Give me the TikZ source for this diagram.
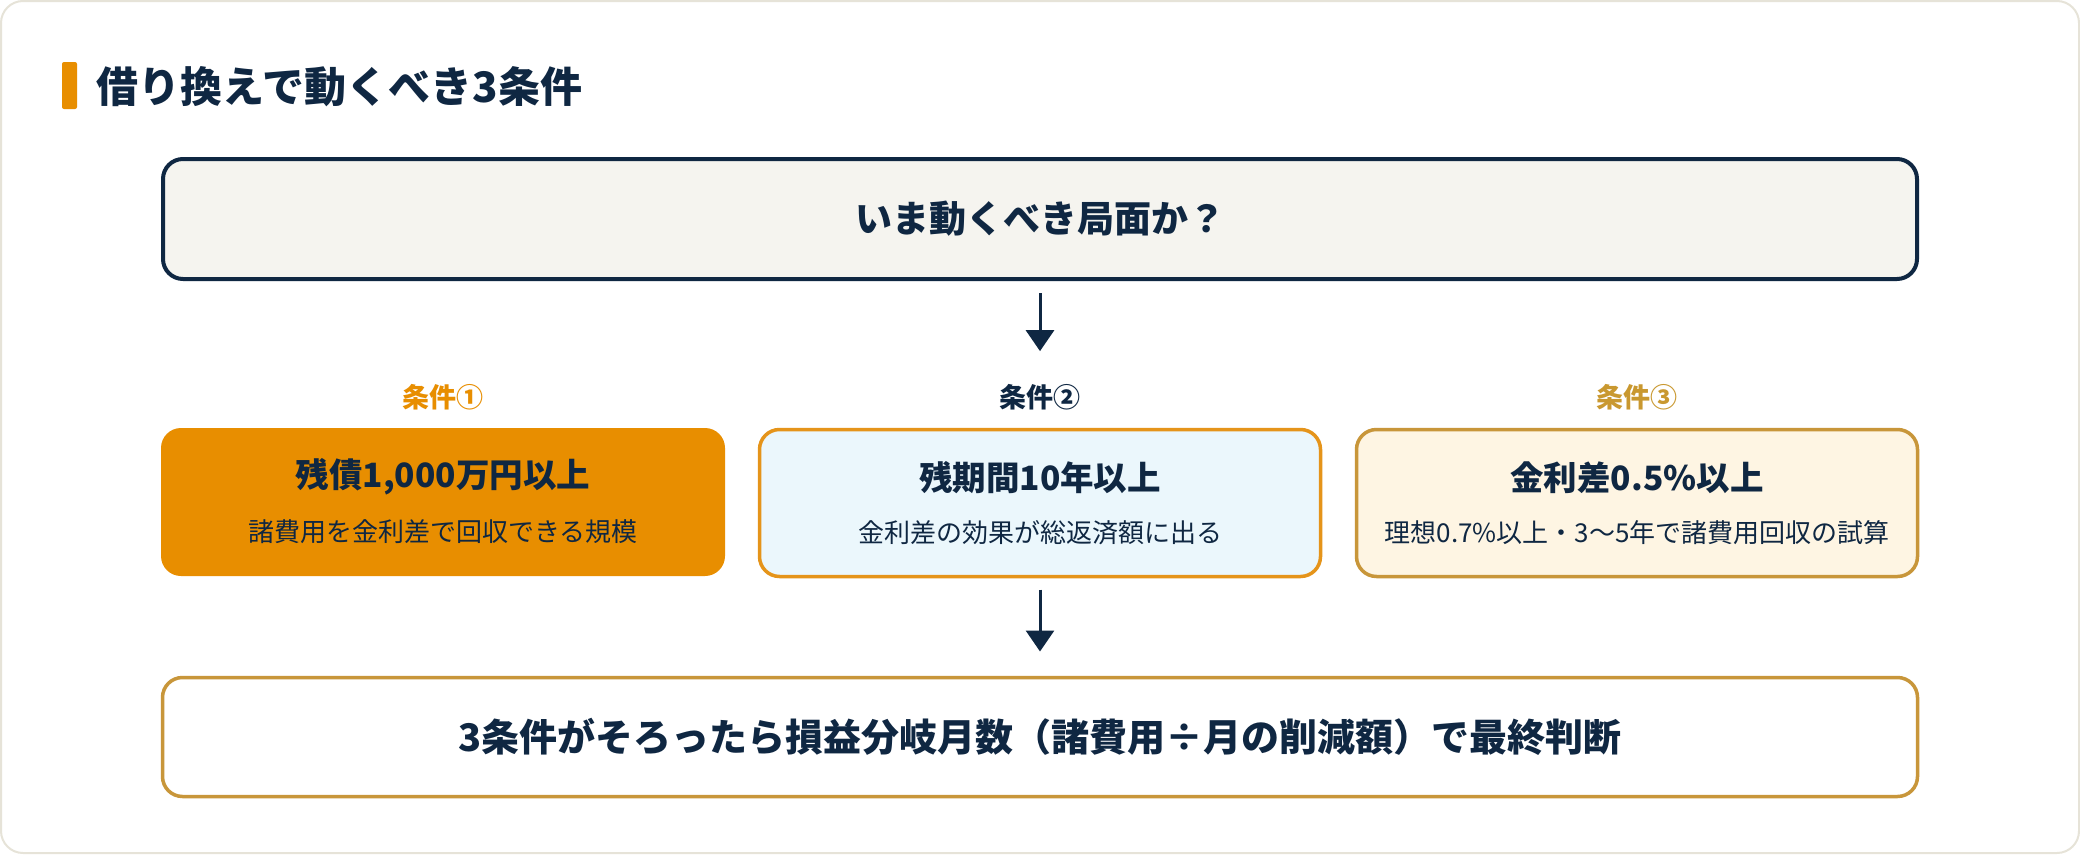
\documentclass[tikz,border=0pt]{standalone}
\usepackage{fontspec}
\newfontfamily\jp{Noto Sans CJK JP}
\usetikzlibrary{arrows.meta,calc}
\definecolor{navy}{HTML}{0F2742}
\definecolor{cardline}{HTML}{E6E3D8}
\definecolor{accent}{HTML}{E88E00}
\definecolor{topfill}{HTML}{F5F4EF}
\definecolor{bluefill}{HTML}{EBF7FC}
\definecolor{bluebord}{HTML}{E5941A}
\definecolor{creamfill}{HTML}{FEF5E3}
\definecolor{gold}{HTML}{C8963A}
\definecolor{goldlab}{HTML}{C9982F}
\begin{document}
\begin{tikzpicture}[x=1pt,y=-1pt,
  every node/.style={font=\jp, text=navy, inner sep=0pt, outer sep=0pt},
  card/.style={rounded corners=20, inner sep=0pt},
  bigtxt/.style={font=\jp\bfseries\fontsize{37}{42}\selectfont},
  fintxt/.style={font=\jp\bfseries\fontsize{38}{42}\selectfont},
  maintxt/.style={font=\jp\bfseries\fontsize{33.5}{38}\selectfont},
  subtxt/.style={font=\jp\fontsize{26}{30}\selectfont},
  labtxt/.style={font=\jp\bfseries\fontsize{27}{30}\selectfont},
  arr/.style={draw=navy, line width=3pt, -{Triangle[length=21pt, width=28pt]}}
]
\useasboundingbox (0,0) rectangle (2080,854);
\draw[cardline, line width=2pt, fill=white, rounded corners=22] (1,1) rectangle (2079,853);
\fill[accent, rounded corners=2] (62,62) rectangle (77,109);
\node[anchor=west, font=\jp\bfseries\fontsize{42}{48}\selectfont] (title) at (96,87) {借り換えで動くべき3条件};

\node[card, draw=navy, line width=4pt, fill=topfill, minimum width=1754pt, minimum height=120pt, bigtxt] (q) at (1040,219) {いま動くべき局面か？};

\node[labtxt, text=accent] (lab1) at (443,397) {条件①};
\node[labtxt] (lab2) at (1040,397) {条件②};
\node[labtxt, text=goldlab] (lab3) at (1637,397) {条件③};

\node[card, fill=accent, minimum width=564pt, minimum height=148pt] (c1) at (443,502) {};
\node[card, draw=bluebord, line width=3.5pt, fill=bluefill, minimum width=561pt, minimum height=147pt] (c2) at (1040,503) {};
\node[card, draw=gold, line width=3.5pt, fill=creamfill, minimum width=561pt, minimum height=147pt] (c3) at (1637,503) {};

\node[maintxt] (c1m) at ($(c1.center)+(0,-25)$) {残債1,000万円以上};
\node[subtxt] (c1s) at ($(c1.center)+(0,30)$) {諸費用を金利差で回収できる規模};
\node[maintxt] (c2m) at ($(c2.center)+(0,-25)$) {残期間10年以上};
\node[subtxt] (c2s) at ($(c2.center)+(0,30)$) {金利差の効果が総返済額に出る};
\node[maintxt] (c3m) at ($(c3.center)+(0,-25)$) {金利差0.5\%以上};
\node[subtxt] (c3s) at ($(c3.center)+(0,30)$) {理想0.7\%以上・3〜5年で諸費用回収の試算};

\node[card, draw=gold, line width=3.5pt, fill=white, minimum width=1755pt, minimum height=119pt, fintxt] (fin) at (1040,737) {3条件がそろったら損益分岐月数（諸費用÷月の削減額）で最終判断};

\draw[arr] ($(q.south)+(0,14)$) -- ($(lab2.north)+(0,-33)$);
\draw[arr] ($(c2.south)+(0,13)$) -- ($(fin.north)+(0,-26)$);
\end{tikzpicture}
\end{document}
